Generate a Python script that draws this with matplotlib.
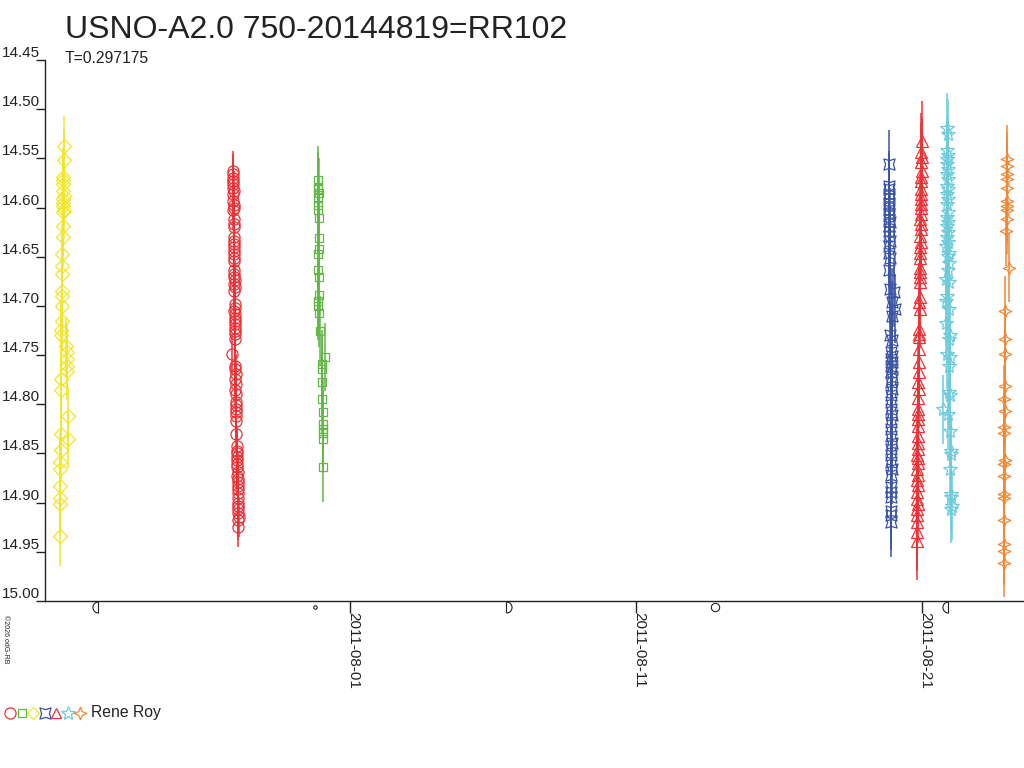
import numpy as np
import matplotlib
matplotlib.use('Agg')
import matplotlib.pyplot as plt
import matplotlib.dates as mdates
from matplotlib.path import Path
from matplotlib.lines import Line2D
from datetime import datetime

plt.rcParams['font.family'] = ['Liberation Sans', 'DejaVu Sans']

# observation nights: time in days from 2011-08-01, magnitude
yel_t = [-10.12, -10.12, -10.13, -10.11, -10.12, -10.11, -10.10, -10.10, -9.85, -9.86,
         -10.09, -10.10, -9.89, -9.88, -9.89, -9.88, -9.90, -10.08, -10.08, -10.07,
         -10.06, -10.06, -10.07, -10.05, -10.05, -10.04, -10.03, -10.03, -10.02, -10.02,
         -10.01, -10.01, -10.02, -10.01, -10.00, -10.00, -10.02, -10.00, -10.01, -10.00]
yel_m = [14.934, 14.901, 14.895, 14.883, 14.866, 14.859, 14.846, 14.830, 14.812, 14.835,
         14.785, 14.774, 14.766, 14.761, 14.754, 14.747, 14.741, 14.730, 14.724, 14.715,
         14.700, 14.690, 14.685, 14.668, 14.659, 14.647, 14.630, 14.619, 14.605, 14.598,
         14.591, 14.583, 14.576, 14.569, 14.552, 14.537, 14.572, 14.588, 14.595, 14.602]

rc_t = [-4.07, -4.06, -4.07, -4.06, -4.07, -4.06, -4.05, -4.06, -4.06, -4.05,
        -4.05, -4.06, -4.05, -4.04, -4.05, -4.04, -4.05, -4.04, -4.03, -4.05,
        -4.04, -4.03, -4.04, -4.03, -4.04, -4.03, -4.02, -4.03, -4.02, -4.03,
        -4.02, -4.01, -4.03, -4.02, -4.01, -4.02, -4.01, -4.02, -4.00, -4.01,
        -4.00, -4.10, -3.99, -4.00, -3.98, -3.99, -3.98, -3.99, -3.97, -3.98,
        -3.97, -3.98, -3.96, -3.97, -3.96, -3.97, -3.94, -3.95, -3.93, -3.94,
        -3.92, -3.93, -3.92, -3.91, -3.92, -3.91, -3.90, -3.91, -3.90, -3.91,
        -3.89, -3.90, -3.89, -3.90, -3.89, -3.88, -3.89, -3.89]
rc_m = [14.563, 14.566, 14.570, 14.573, 14.576, 14.580, 14.583, 14.586, 14.593, 14.597,
        14.600, 14.603, 14.612, 14.617, 14.620, 14.630, 14.634, 14.637, 14.640, 14.644,
        14.647, 14.651, 14.654, 14.664, 14.668, 14.671, 14.674, 14.678, 14.681, 14.685,
        14.698, 14.702, 14.705, 14.708, 14.712, 14.715, 14.718, 14.722, 14.725, 14.729,
        14.734, 14.749, 14.761, 14.764, 14.769, 14.774, 14.779, 14.785, 14.790, 14.798,
        14.801, 14.805, 14.808, 14.812, 14.817, 14.830, 14.842, 14.847, 14.850, 14.854,
        14.857, 14.861, 14.864, 14.869, 14.873, 14.876, 14.879, 14.883, 14.886, 14.890,
        14.895, 14.900, 14.903, 14.906, 14.911, 14.915, 14.918, 14.925]

gr_t = [-1.09, -1.11, -1.10, -1.08, -1.11, -1.09, -1.10, -1.08, -1.08, -1.07,
        -1.09, -1.10, -1.08, -1.07, -1.09, -1.10, -1.06, -1.05, -0.87, -0.95,
        -0.97, -0.96, -0.95, -0.93, -0.92, -0.94, -0.93, -0.94, -0.93]
gr_m = [14.572, 14.579, 14.581, 14.585, 14.590, 14.597, 14.603, 14.611, 14.631, 14.642,
        14.647, 14.664, 14.671, 14.689, 14.695, 14.700, 14.707, 14.725, 14.752, 14.759,
        14.764, 14.777, 14.795, 14.808, 14.820, 14.825, 14.829, 14.835, 14.864]

bl_t = [18.86, 18.86, 18.87, 18.85, 18.86, 18.87, 18.86, 18.85, 18.87, 18.86,
        18.88, 18.86, 18.87, 18.86, 18.88, 18.87, 18.86, 18.88, 18.87, 18.90,
        19.04, 18.95, 19.06, 18.98, 18.89, 18.97, 18.93, 18.96, 18.92, 18.95,
        18.93, 18.97, 18.92, 18.95, 18.93, 18.96, 18.92, 18.94, 18.93, 18.95,
        18.92, 18.94, 18.93, 18.95, 18.92, 18.94, 18.93, 18.95, 18.92, 18.94,
        18.93, 18.92, 18.93, 18.94, 18.93]
bl_m = [14.556, 14.578, 14.581, 14.586, 14.590, 14.595, 14.598, 14.602, 14.607, 14.612,
        14.615, 14.619, 14.624, 14.629, 14.634, 14.639, 14.646, 14.651, 14.663, 14.683,
        14.686, 14.696, 14.703, 14.710, 14.730, 14.735, 14.747, 14.751, 14.754, 14.757,
        14.761, 14.764, 14.767, 14.772, 14.777, 14.784, 14.791, 14.798, 14.805, 14.811,
        14.818, 14.825, 14.832, 14.839, 14.845, 14.852, 14.859, 14.866, 14.872, 14.884,
        14.889, 14.894, 14.908, 14.913, 14.920]

rt_t = [20.00, 19.99, 20.00, 19.98, 20.00, 19.99, 19.98, 19.99, 19.97, 19.98,
        19.99, 19.97, 19.98, 19.96, 19.97, 19.98, 19.96, 19.97, 19.95, 19.96,
        19.95, 19.94, 19.95, 19.93, 19.94, 19.93, 19.92, 19.93, 19.92, 19.91,
        19.92, 19.91, 19.90, 19.91, 19.89, 19.90, 19.88, 19.89, 19.87, 19.88,
        19.87, 19.88, 19.86, 19.87, 19.85, 19.86, 19.87, 19.85, 19.86, 19.84,
        19.86, 19.85, 19.84, 19.86, 19.85, 19.84, 19.85, 19.84, 19.84]
rt_m = [14.532, 14.544, 14.549, 14.554, 14.563, 14.569, 14.573, 14.581, 14.586, 14.591,
        14.596, 14.600, 14.607, 14.612, 14.617, 14.622, 14.629, 14.635, 14.640, 14.646,
        14.651, 14.661, 14.666, 14.671, 14.676, 14.691, 14.696, 14.703, 14.723, 14.729,
        14.732, 14.744, 14.757, 14.767, 14.777, 14.784, 14.794, 14.805, 14.810, 14.815,
        14.822, 14.832, 14.839, 14.845, 14.852, 14.855, 14.860, 14.866, 14.872, 14.877,
        14.882, 14.889, 14.896, 14.901, 14.906, 14.913, 14.920, 14.930, 14.939]

cy_t = [20.90, 20.91, 20.90, 20.91, 20.89, 20.90, 20.91, 20.90, 20.92, 20.90,
        20.91, 20.89, 20.91, 20.90, 20.92, 20.88, 20.91, 20.89, 20.93, 20.90,
        20.92, 20.87, 20.95, 20.91, 20.96, 20.94, 20.85, 20.97, 20.88, 20.84,
        20.96, 20.86, 20.98, 20.95, 20.90, 20.99, 20.96, 20.97, 20.99, 20.75,
        20.93, 20.99, 21.03, 21.04, 21.01, 21.03, 21.04, 21.05, 21.04]
cy_m = [14.519, 14.525, 14.542, 14.547, 14.551, 14.556, 14.561, 14.566, 14.571, 14.578,
        14.581, 14.586, 14.591, 14.596, 14.605, 14.610, 14.615, 14.619, 14.625, 14.630,
        14.635, 14.639, 14.646, 14.649, 14.656, 14.664, 14.673, 14.676, 14.690, 14.695,
        14.703, 14.717, 14.730, 14.734, 14.749, 14.752, 14.761, 14.788, 14.791, 14.805,
        14.810, 14.827, 14.847, 14.851, 14.866, 14.891, 14.894, 14.903, 14.906]

or_t = [22.99, 22.98, 23.00, 22.97, 22.99, 22.98, 23.00, 22.97, 22.99, 22.96,
        23.05, 22.92, 22.91, 22.90, 22.91, 22.89, 22.90, 22.89, 22.88, 22.90,
        22.89, 22.88, 22.89, 22.88, 22.88, 22.87, 22.88, 22.87]
or_m = [14.551, 14.558, 14.566, 14.571, 14.580, 14.593, 14.598, 14.602, 14.612, 14.624,
        14.661, 14.705, 14.734, 14.749, 14.781, 14.795, 14.807, 14.823, 14.829, 14.857,
        14.861, 14.873, 14.891, 14.895, 14.918, 14.942, 14.949, 14.961]

# moon phases (days from 2011-08-01): LQ, NM, FQ, FM, LQ
moon_t = [-8.79, -1.22, 5.46, 12.79, 20.91]
moon_kind = ['lq', 'nm', 'fq', 'fm', 'lq']

tick_days = [0, 10, 20]
ytick_vals = [14.45, 14.50, 14.55, 14.60, 14.65, 14.70, 14.75, 14.80, 14.85, 14.90, 14.95, 15.00]

base = mdates.date2num(datetime(2011, 8, 1))


def star4(angle, inner):
    pts = []
    for k in range(8):
        r = 1.0 if k % 2 == 0 else inner
        a = np.deg2rad(angle + 45 * k)
        pts.append((r * np.sin(a), r * np.cos(a)))
    pts.append(pts[0])
    return Path(pts, [Path.MOVETO] + [Path.LINETO] * 7 + [Path.CLOSEPOLY])


def half_moon(left):
    arc = Path.arc(90, 270) if left else Path.arc(-90, 90)
    v = np.vstack([arc.vertices, arc.vertices[:1]])
    c = list(arc.codes) + [Path.LINETO]
    return Path(v, c)


red = '#ED3237'
blue_mk = star4(45, 0.5)
orange_mk = star4(0, 0.42)
series = [
    (yel_t, yel_m, 0.03, '#F2E52A', 'D', 7),
    (rc_t, rc_m, 0.02, red, 'o', 8),
    (gr_t, gr_m, 0.035, '#62B846', 's', 6),
    (bl_t, bl_m, 0.035, '#3B54A5', blue_mk, 8),
    (rt_t, rt_m, 0.04, red, '^', 8),
    (cy_t, cy_m, 0.035, '#6DCCDC', '*', 10),
    (or_t, or_m, 0.035, '#F58634', orange_mk, 9),
]

fig = plt.figure(figsize=(10.24, 7.68), dpi=100)
ax = fig.add_axes([45 / 1024, 167 / 768, 979 / 1024, 541 / 768])

for t, m, e, col, mk, ms in series:
    x = base + np.array(t)
    ax.errorbar(x, m, yerr=e, fmt='none', ecolor=col, elinewidth=1.1, capsize=0)
    ax.plot(x, m, linestyle='none', marker=mk, ms=ms, mfc='none', mec=col, mew=0.9)

ax.set_xlim(base - 10.65, base + 23.58)
ax.set_ylim(15.00, 14.45)

ax.set_yticks(ytick_vals)
ax.set_yticklabels(['%.2f' % v for v in ytick_vals])
ax.tick_params(axis='y', length=6.5, width=1, pad=-2.9, labelsize=11, colors='#222222')
plt.setp(ax.get_yticklabels(), va='bottom')

ax.set_xticks([base + d for d in tick_days])
ax.xaxis.set_major_formatter(mdates.DateFormatter('%Y-%m-%d'))
ax.tick_params(axis='x', length=8.6, width=1, pad=-0.7, labelsize=11, colors='#222222')
plt.setp(ax.get_xticklabels(), rotation=-90, ha='left', va='baseline', rotation_mode='anchor')

for s in ['top', 'right']:
    ax.spines[s].set_visible(False)
for s in ['left', 'bottom']:
    ax.spines[s].set_color('#222222')
    ax.spines[s].set_linewidth(1)

# moon phase symbols under the axis
trans = ax.get_xaxis_transform()
for t, kind in zip(moon_t, moon_kind):
    if kind == 'lq':
        mk, ms = half_moon(True), 8
    elif kind == 'fq':
        mk, ms = half_moon(False), 8
    elif kind == 'fm':
        mk, ms = 'o', 6
    else:
        mk, ms = 'o', 2.5
    ax.plot([base + t], [-0.011], transform=trans, marker=mk, ms=ms, mfc='none',
            mec='#222222', mew=0.8, clip_on=False)

fig.text(65 / 1024, 1 - 38 / 768, 'USNO-A2.0 750-20144819=RR102', fontsize=23,
         color='#222222', va='baseline')
fig.text(65 / 1024, 1 - 63 / 768, 'T=0.297175', fontsize=11.3, color='#222222', va='baseline')
fig.text(2 / 1024, 1 - 615 / 768, '\u00a92026 odG-RB', fontsize=5, rotation=-90,
         ha='left', va='top', color='#222222')

# legend row
leg_marks = [('o', red, 8), ('s', '#62B846', 5.5), ('D', '#F2E52A', 6), (blue_mk, '#3B54A5', 8),
             ('^', red, 7.5), ('*', '#6DCCDC', 10), (orange_mk, '#F58634', 9)]
lx = 10
for mk, col, ms in leg_marks:
    fig.add_artist(Line2D([lx / 1024], [1 - 713 / 768], marker=mk, ms=ms, mfc='none', mec=col,
                          mew=0.9, linestyle='none', transform=fig.transFigure))
    lx += 11.6
fig.text(91 / 1024, 1 - 713 / 768, 'Rene Roy', fontsize=11.3, color='#222222', va='center')

fig.savefig('out.png', dpi=100)
